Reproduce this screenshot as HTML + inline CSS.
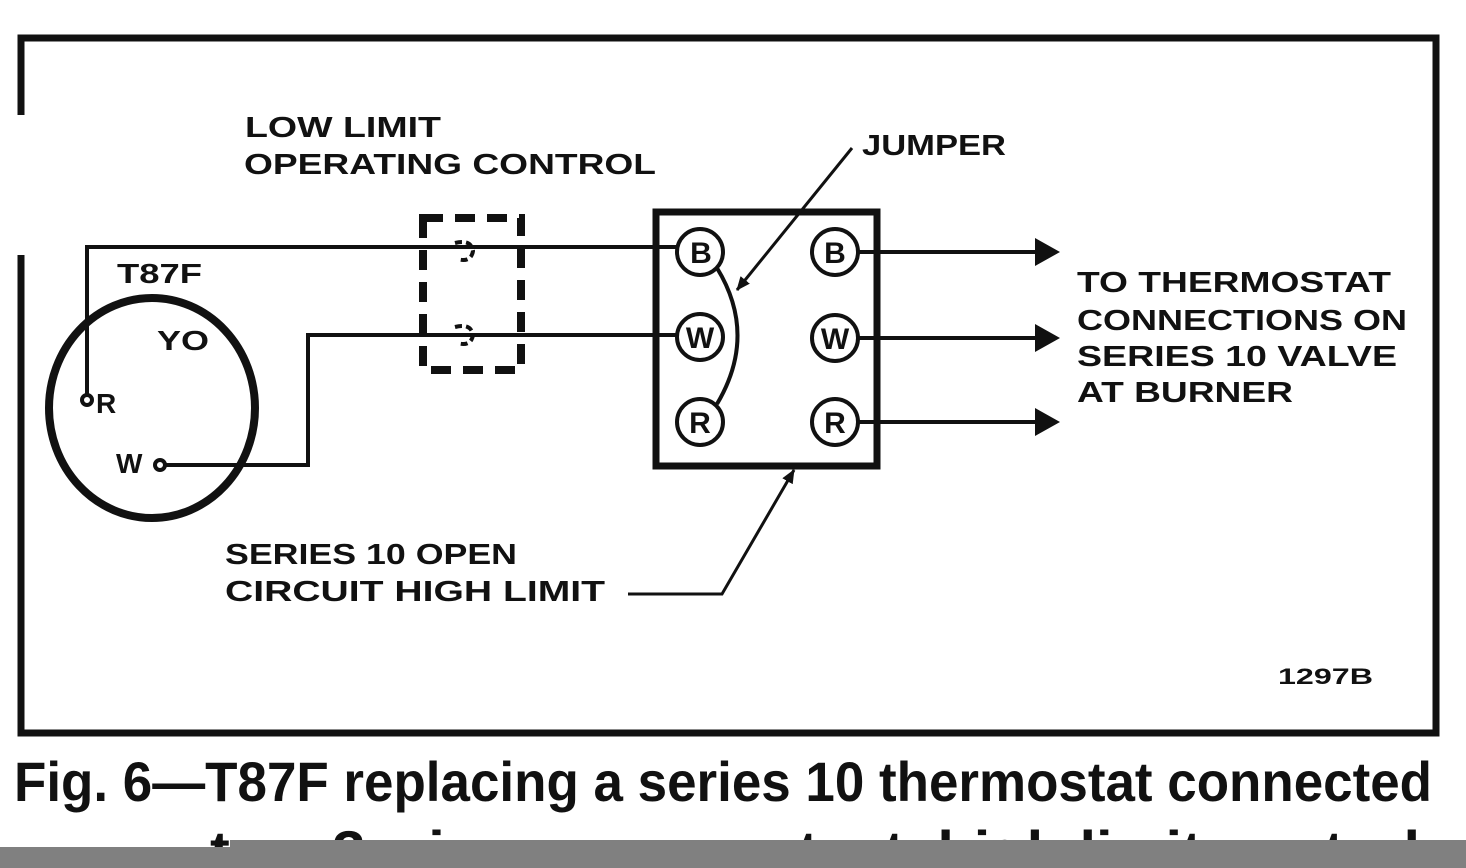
<!DOCTYPE html>
<html><head><meta charset="utf-8"><style>
html,body{margin:0;padding:0;background:#fff;width:1466px;height:868px;overflow:hidden}
svg{display:block}
text{font-family:"Liberation Sans",sans-serif;font-weight:bold;fill:#111}
</style></head><body>
<svg width="1466" height="868" viewBox="0 0 1466 868" xmlns="http://www.w3.org/2000/svg">
<defs><marker id="ah" markerWidth="14" markerHeight="12" refX="13" refY="6" orient="auto" markerUnits="userSpaceOnUse"><path d="M0,0 L14,6 L0,12 z" fill="#111"/></marker></defs>
<g stroke="#111" fill="none">
<path d="M21,115 V38 H1436 V733 H21 V255" stroke-width="7"/>
<ellipse cx="152" cy="408" rx="103" ry="110" stroke-width="8"/>
<path d="M87,396 V247 H678" stroke-width="4"/>
<path d="M165,465 H308 V335 H678" stroke-width="4"/>
<circle cx="87" cy="400" r="5" stroke-width="4" fill="#fff"/>
<circle cx="160" cy="465" r="5" stroke-width="4" fill="#fff"/>
<rect x="423" y="218" width="98" height="152" stroke-width="8" stroke-dasharray="20,12"/>
<path d="M455,243 q16,-4 18,8 q-2,12 -16,8" stroke-width="4" stroke-dasharray="7,4"/>
<path d="M455,327 q16,-4 18,8 q-2,12 -16,8" stroke-width="4" stroke-dasharray="7,4"/>
<rect x="656" y="212" width="221" height="254" stroke-width="7"/>
<g stroke-width="4" fill="#fff">
<circle cx="700" cy="252" r="23"/><circle cx="700" cy="337" r="23"/><circle cx="700" cy="422" r="23"/>
<circle cx="835" cy="252" r="23"/><circle cx="835" cy="338" r="23"/><circle cx="835" cy="422" r="23"/>
</g>
<path d="M717,268 Q758,335 717,404" stroke-width="4"/>
<path d="M852,148 L737,290" stroke-width="3" marker-end="url(#ah)"/>
<path d="M858,252 H1040" stroke-width="4"/>
<path d="M858,338 H1040" stroke-width="4"/>
<path d="M858,422 H1040" stroke-width="4"/>
<path d="M628,594 H722 L794,470" stroke-width="3" marker-end="url(#ah)"/>
</g>
<g fill="#111">
<path d="M1035,238 L1060,252 L1035,266 z"/><path d="M1035,324 L1060,338 L1035,352 z"/><path d="M1035,408 L1060,422 L1035,436 z"/>
</g>
<g font-size="30" text-anchor="middle">
<text x="701" y="263">B</text><text x="700" y="348">W</text><text x="700" y="433">R</text>
<text x="835" y="263">B</text><text x="835" y="349">W</text><text x="835" y="433">R</text>
</g>
<g font-size="29">
<text x="245" y="137" textLength="196" lengthAdjust="spacingAndGlyphs">LOW LIMIT</text>
<text x="244" y="174" textLength="412" lengthAdjust="spacingAndGlyphs">OPERATING CONTROL</text>
<text x="862" y="155" textLength="144" lengthAdjust="spacingAndGlyphs">JUMPER</text>
<text x="225" y="564" textLength="292" lengthAdjust="spacingAndGlyphs">SERIES 10 OPEN</text>
<text x="225" y="601" textLength="380" lengthAdjust="spacingAndGlyphs">CIRCUIT HIGH LIMIT</text>
<text x="1077" y="292" textLength="314" lengthAdjust="spacingAndGlyphs">TO THERMOSTAT</text>
<text x="1077" y="330" textLength="330" lengthAdjust="spacingAndGlyphs">CONNECTIONS ON</text>
<text x="1077" y="366" textLength="320" lengthAdjust="spacingAndGlyphs">SERIES 10 VALVE</text>
<text x="1077" y="402" textLength="216" lengthAdjust="spacingAndGlyphs">AT BURNER</text>
</g>
<g font-size="28">
<text x="117" y="283" textLength="85" lengthAdjust="spacingAndGlyphs">T87F</text>
<text x="157" y="350" textLength="52" lengthAdjust="spacingAndGlyphs">YO</text>
<text x="96" y="413">R</text>
<text x="116" y="473">W</text>
</g>
<text x="1278" y="684" font-size="22" textLength="95" lengthAdjust="spacingAndGlyphs">1297B</text>
<text x="14" y="801" font-size="56" textLength="1418" lengthAdjust="spacingAndGlyphs">Fig.  6—T87F replacing a series 10 thermostat connected</text>
<text x="210" y="870" font-size="56" textLength="1210" lengthAdjust="spacingAndGlyphs">to a 3 wire, open contact, high limit control</text>
<rect x="0" y="847" width="1466" height="21" fill="#808080"/>
<rect x="230" y="840" width="1236" height="28" fill="#808080"/>
</svg>
</body></html>
